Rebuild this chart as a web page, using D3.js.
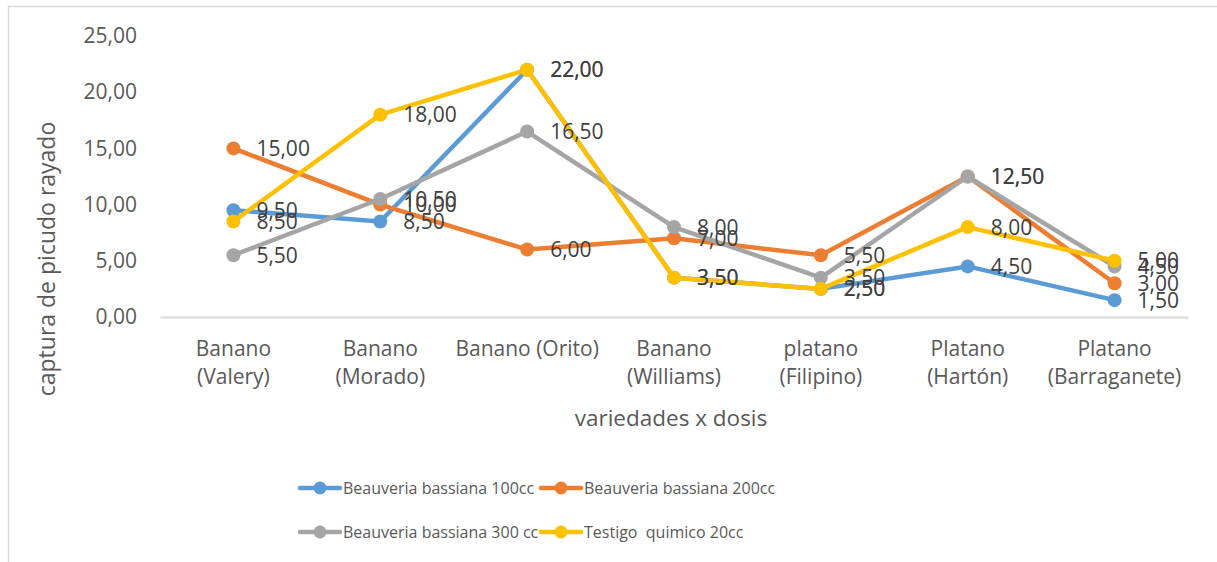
<!DOCTYPE html>
<html>
<head>
<meta charset="utf-8">
<script src="https://cdn.jsdelivr.net/npm/d3@7"></script>
<style>
  body { margin: 0; background: #fff; }
  svg { display: block; font-family: "Open Sans", sans-serif; }
</style>
</head>
<body>
<svg id="chart" width="1217" height="562"></svg>
<script>
// ---- data ----
var categories = ["Banano (Valery)", "Banano (Morado)", "Banano (Orito)", "Banano (Williams)",
                  "platano (Filipino)", "Platano (Hartón)", "Platano (Barraganete)"];
var seriesNames = ["Beauveria bassiana 100cc", "Beauveria bassiana 200cc",
                   "Beauveria bassiana 300 cc", "Testigo  quimico 20cc"];
var b100 = [9.5, 8.5, 22, 3.5, 2.5, 4.5, 1.5];
var b200 = [15, 10, 6, 7, 5.5, 12.5, 3];
var b300 = [5.5, 10.5, 16.5, 8, 3.5, 12.5, 4.5];
var testigo = [8.5, 18, 22, 3.5, 2.5, 8, 5];
var yTicks = [0, 5, 10, 15, 20, 25];
var colors = ["#5B9BD5", "#ED7D31", "#A5A5A5", "#FFC000"];

var series = [b100, b200, b300, testigo].map(function(vals, i) {
  return {name: seriesNames[i], color: colors[i], values: vals};
});

var fmt = function(v) { return d3.format(".2f")(v).replace(".", ","); };

var svg = d3.select("#chart");
var margin = {top: 36, left: 160, right: 29, bottom: 245};
var width = 1217 - margin.left - margin.right;
var height = 562 - margin.top - margin.bottom;

// outer border
svg.append("rect")
  .attr("x", 8.5).attr("y", 6.5)
  .attr("width", 1300).attr("height", 700)
  .attr("fill", "none").attr("stroke", "#d9d9d9").attr("stroke-width", 1.5);

var x = d3.scaleBand().domain(categories).range([0, width]);
var y = d3.scaleLinear().domain([0, 25]).range([height, 0]);

var g = svg.append("g").attr("transform", "translate(" + margin.left + "," + margin.top + ")");

// y axis labels (no line)
var yAxis = d3.axisLeft(y).tickValues(yTicks).tickFormat(fmt).tickSize(0).tickPadding(23);
var gy = g.append("g").call(yAxis);
gy.select(".domain").remove();
gy.selectAll("text").attr("fill", "#595959").style("font-size", "21px")
  .style("font-family", "'Open Sans', sans-serif");

// x axis
var xAxis = d3.axisBottom(x).tickSize(0).tickPadding(0);
var gx = g.append("g").attr("transform", "translate(0," + height + ")").call(xAxis);
gx.select(".domain").attr("stroke", "#d9d9d9").attr("stroke-width", 2);
gx.selectAll("text").attr("fill", "#595959").style("font-size", "21px")
  .style("font-family", "'Open Sans', sans-serif")
  .call(wrap, x.bandwidth());

function wrap(texts, w) {
  texts.each(function() {
    var text = d3.select(this);
    var words = text.text().split(" ");
    var lines = [], line = [];
    text.text(null);
    var tmp = text.append("tspan");
    words.forEach(function(word) {
      line.push(word);
      tmp.text(line.join(" "));
      if (tmp.node().getComputedTextLength() > w && line.length > 1) {
        line.pop();
        lines.push(line.join(" "));
        line = [word];
      }
    });
    lines.push(line.join(" "));
    tmp.remove();
    text.attr("dy", null).attr("y", 0);
    lines.forEach(function(l, i) {
      text.append("tspan").attr("x", 0).attr("y", 39 + i * 28).text(l);
    });
  });
}

// lines
var line = d3.line()
  .x(function(d, i) { return x(categories[i]) + x.bandwidth() / 2; })
  .y(function(d) { return y(d); });

series.forEach(function(s) {
  g.append("path")
    .datum(s.values)
    .attr("d", line)
    .attr("fill", "none")
    .attr("stroke", s.color)
    .attr("stroke-width", 4.5)
    .attr("stroke-linejoin", "round");
  g.selectAll(null).data(s.values).enter().append("circle")
    .attr("cx", function(d, i) { return x(categories[i]) + x.bandwidth() / 2; })
    .attr("cy", function(d) { return y(d); })
    .attr("r", 7)
    .attr("fill", s.color);
});

// data labels
series.forEach(function(s) {
  g.selectAll(null).data(s.values).enter().append("text")
    .attr("x", function(d, i) { return x(categories[i]) + x.bandwidth() / 2 + 23; })
    .attr("y", function(d) { return y(d); })
    .attr("dy", "0.36em")
    .attr("fill", "#404040")
    .style("font-size", "21px")
    .text(fmt);
});

// axis titles
svg.append("text")
  .attr("x", margin.left + width / 2 - 3).attr("y", 418).attr("dy", "0.36em")
  .attr("text-anchor", "middle").attr("fill", "#595959").style("font-size", "22.5px")
  .text("variedades x dosis");

svg.append("text")
  .attr("transform", "translate(47,259) rotate(-90)")
  .attr("dy", "0.36em")
  .attr("text-anchor", "middle").attr("fill", "#595959").style("font-size", "23px")
  .text("captura de picudo rayado");

// legend
var legendCols = [300, 541], legendRows = [488, 532];
var legend = svg.selectAll(".legend").data(series).enter().append("g")
  .attr("transform", function(d, i) {
    return "translate(" + legendCols[i % 2] + "," + legendRows[Math.floor(i / 2)] + ")";
  });
legend.append("line")
  .attr("x1", 0).attr("x2", 40).attr("y1", 0).attr("y2", 0)
  .attr("stroke", function(d) { return d.color; })
  .attr("stroke-width", 4.5).attr("stroke-linecap", "round");
legend.append("circle")
  .attr("cx", 20).attr("cy", 0).attr("r", 6.5)
  .attr("fill", function(d) { return d.color; });
legend.append("text")
  .attr("x", 43).attr("y", 0).attr("dy", "0.36em")
  .attr("fill", "#595959").style("font-size", "16px")
  .style("white-space", "pre")
  .text(function(d) { return d.name; });
</script>
</body>
</html>
